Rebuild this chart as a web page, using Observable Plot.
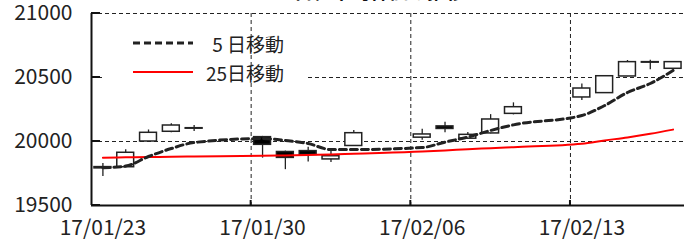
<!DOCTYPE html>
<html><head><meta charset="utf-8">
<script src="https://cdn.jsdelivr.net/npm/d3@7"></script>
<script src="https://cdn.jsdelivr.net/npm/@observablehq/plot@0.6"></script>
<style>
html,body{margin:0;padding:0;background:#fff;overflow:hidden}
#wrap{position:relative;width:694px;height:246px;overflow:hidden}
#title{position:absolute;top:-19px;right:229px;font:bold 19px "Noto Sans CJK JP";line-height:1;white-space:nowrap;z-index:2;color:#111}
</style></head><body>
<div id="wrap"><div id="title">日経平均株価の推移</div><div id="chart"></div></div>
<script>
const dates = ["2017-01-23","2017-01-24","2017-01-25","2017-01-26","2017-01-27",
  "2017-01-30","2017-01-31","2017-02-01","2017-02-02","2017-02-03",
  "2017-02-06","2017-02-07","2017-02-08","2017-02-09","2017-02-10",
  "2017-02-13","2017-02-14","2017-02-15","2017-02-16","2017-02-17"];
const openV  = [19790,19799,20000,20076,20100, 20034,19918,19925,19860,19965, 20030,20118,20022,20063,20216, 20344,20378,20508,20620,20568];
const highV  = [19828,19935,20090,20138,20125, 20040,19925,19955,19930,20085, 20095,20150,20070,20210,20302, 20450,20510,20633,20635,20622];
const lowV   = [19727,19795,19995,20068,20078, 19870,19780,19840,19835,19960, 20010,20068,20018,20060,20208, 20320,20376,20505,20560,20547];
const closeV = [19800,19912,20068,20125,20104, 19974,19872,19895,19885,20065, 20055,20098,20052,20172,20268, 20414,20510,20620,20616,20620];
const ma5  = [19795,19808,19883,19945,19992, 20023,20008,19984,19937,19937, 19953,19995,20035,20086,20130, 20203,20281,20383,20453,20555];
const ma25 = [19873,19876,19878,19880,19883, 19888,19891,19895,19899,19905, 19922,19930,19940,19948,19956, 19982,20008,20032,20060,20093];
const yTicks = [19500,20000,20500,21000];
const yGrid = [20000,20500,21000];
const xTickDates = ["2017-01-23","2017-01-30","2017-02-06","2017-02-13"];
const weekBounds = ["2017-01-29T12:00Z","2017-02-05T12:00Z","2017-02-12T12:00Z"];
const xDomain = ["2017-01-22T12:00Z","2017-02-17T12:00Z"];
const legendLabels = ["5 日移動","25日移動"];
const legendColors = ["#222","#ff0000"];

const DAY = 86400000;
const rows = dates.map((d,i)=>({date:new Date(d),open:openV[i],high:highV[i],low:lowV[i],close:closeV[i],ma5:ma5[i],ma25:ma25[i]}));
const FONT = '"Noto Sans CJK JP", "Noto Sans", sans-serif';

function legendBg(index, scales, values, dim) {
  const g = d3.create("svg:g");
  const ml = dim.marginLeft, mt = dim.marginTop;
  g.append("rect").attr("x", ml+12).attr("y", mt+17).attr("width", 205).attr("height", 60).attr("fill","white");
  return g.node();
}
function innerTicks(index, scales, values, dim) {
  const g = d3.create("svg:g").attr("stroke","#111");
  const ml = dim.marginLeft, bottom = dim.height - dim.marginBottom;
  for (const v of yTicks) {
    const y = scales.y(v);
    g.append("line").attr("x1", ml).attr("x2", ml+9).attr("y1", y).attr("y2", y).attr("stroke-width", 2);
  }
  for (const d of weekBounds) {
    const x = scales.x(new Date(d));
    g.append("line").attr("x1", x).attr("x2", x).attr("y1", bottom).attr("y2", bottom-5).attr("stroke-width", 2);
  }
  return g.node();
}
function legend(index, scales, values, dim) {
  const g = d3.create("svg:g");
  const ml = dim.marginLeft, mt = dim.marginTop;
  legendLabels.forEach((lab, i) => {
    const y = mt + 30 + i*29;
    g.append("line").attr("x1", ml+42).attr("x2", ml+102).attr("y1", y).attr("y2", y)
      .attr("stroke", legendColors[i]).attr("stroke-width", i===0?3:2)
      .attr("stroke-dasharray", i===0?"7,4":null);
    g.append("text").attr("x", ml+193).attr("y", y).attr("text-anchor","end")
      .attr("dominant-baseline","central").attr("font-size", 19).attr("font-family", FONT)
      .attr("fill","#222").text(lab);
  });
  return g.node();
}

const chart = Plot.plot({
  width: 694, height: 246,
  marginLeft: 91, marginRight: 10, marginTop: 13, marginBottom: 41,
  style: {fontFamily: FONT, fontSize: "21px", color: "#222", background: "white", overflow: "visible"},
  x: {type: "utc", domain: xDomain.map(d=>new Date(d))},
  y: {domain: [19500, 21000]},
  marks: [
    Plot.ruleY(yGrid, {stroke:"#222", strokeWidth:1, strokeDasharray:"4,3"}),
    legendBg,
    Plot.ruleX(weekBounds.map(d=>new Date(d)), {stroke:"#222", strokeWidth:1, strokeDasharray:"4,3"}),
    Plot.ruleX(rows, {x:"date", y1:"low", y2:"high", stroke:"#222", strokeWidth:1.3}),
    Plot.rect(rows, {x1: d=>new Date(+d.date - 0.37*DAY), x2: d=>new Date(+d.date + 0.37*DAY),
      y1:"open", y2:"close", fill: d=> d.close>=d.open ? "white" : "black", stroke:"#222", strokeWidth:1.5}),
    Plot.line(rows, {x:"date", y:"ma25", stroke:"#ff0000", strokeWidth:2, curve:"monotone-x"}),
    Plot.line(rows, {x:"date", y:"ma5", stroke:"#222", strokeWidth:3, strokeDasharray:"7,4", curve:"monotone-x"}),
    Plot.ruleY([19500], {stroke:"#111", strokeWidth:2}),
    Plot.ruleX([new Date(xDomain[0])], {stroke:"#111", strokeWidth:2}),
    innerTicks,
    Plot.axisY(yTicks, {tickSize:0, tickPadding:19, fontSize:21, fill:"#222", tickFormat: d => String(d)}),
    Plot.axisX(xTickDates.map(d=>new Date(d)), {tickSize:0, tickPadding:15, fontSize:21, fill:"#222", tickFormat: d3.utcFormat("%y/%m/%d")}),
    legend
  ]
});
document.getElementById("chart").appendChild(chart);
</script>
</body></html>
